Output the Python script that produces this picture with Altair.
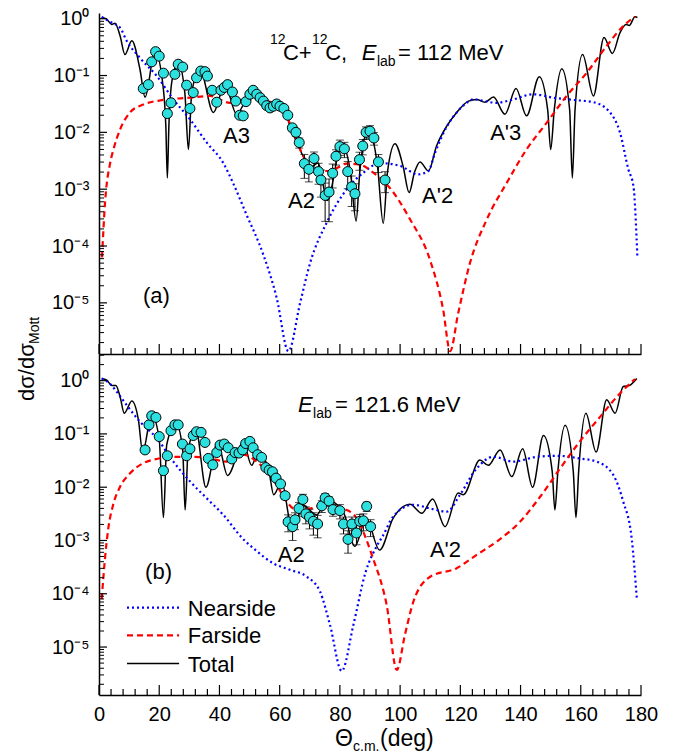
import altair as alt
import pandas as pd

FONT = "Liberation Sans"
W, H = 542, 341
CYAN = "#2CE0E0"

# ---------------- panel (a): E_lab = 112 MeV ----------------
A_TOTAL_DEG = [0.9, 2.6, 4.2, 5.3, 7.0, 8.6, 10.9, 13.6, 15.3, 18.6,
               21.3, 22.2, 22.7, 23.2, 24.2, 26.3, 28.5, 29.7, 30.8, 33.5,
               38.0, 41.8, 45.7, 51.2, 54.0, 57.0, 61.2, 63.4, 66.2, 67.8,
               70.0, 72.8, 75.8, 80.6, 83.5, 85.4, 86.6, 89.4, 92.5, 94.4,
               95.8, 98.3, 101.0, 103.0, 104.8, 106.6, 109.4, 112.1, 115.5, 118.8,
               122.7, 125.4, 128.2, 131.0, 134.8, 138.5, 142.0, 146.2, 149.0, 150.0,
               151.2, 153.7, 156.3, 157.2, 158.1, 160.6, 164.2, 167.7, 170.5, 173.0,
               175.0, 176.1, 178.0, 178.8]
A_TOTAL_VAL = [1.05, 0.977, 0.794, 0.832, 0.50, 0.234, 0.407, 0.129, 0.0417, 0.269,
               0.063, 0.0126, 0.00158, 0.0126, 0.079, 0.170, 0.050, 0.0050, 0.050, 0.129,
               0.0224, 0.0692, 0.0209, 0.0617, 0.038, 0.0302, 0.0295, 0.0129, 0.00575, 0.0038,
               0.0024, 0.00288, 0.000631, 0.00617, 0.0020, 0.000275, 0.0020, 0.0112, 0.00251, 0.000251,
               0.0020, 0.00631, 0.00251, 0.000871, 0.0020, 0.00302, 0.00209, 0.00575, 0.0129, 0.0224,
               0.0355, 0.038, 0.0339, 0.0417, 0.0209, 0.0589, 0.0195, 0.0955, 0.0251, 0.0050,
               0.0251, 0.132, 0.0251, 0.00158, 0.0251, 0.234, 0.0437, 0.468, 0.245, 0.562,
               0.794, 0.759, 1.08, 1.05]

A_NEAR_DEG = [0.9, 3.5, 7.0, 9.2, 13.6, 19.2, 24.7, 30.2, 35.8, 41.3,
              44.5, 49.0, 54.6, 59.0, 62.9, 66.8, 70.1, 75.6, 82.3, 87.8,
              93.3, 100.0, 106.0, 109.4, 111.6, 115.5, 118.8, 122.7, 124.3, 132.0,
              137.6, 144.2, 150.9, 157.5, 164.2, 169.7, 173.0, 175.8, 177.5, 178.8]
A_NEAR_VAL = [1.07, 0.891, 0.692, 0.407, 0.204, 0.0977, 0.038, 0.0170, 0.00661, 0.00288,
              0.00129, 3.55e-4, 7.0e-5, 1.23e-5, 1.41e-6, 1.0e-5, 5.01e-5, 2.57e-4, 1.0e-3, 1.95e-3,
              2.88e-3, 2.57e-3, 1.82e-3, 2.09e-3, 4.37e-3, 0.0126, 0.0224, 0.0347, 0.038, 0.0331,
              0.038, 0.0468, 0.0407, 0.0372, 0.0339, 0.0224, 0.01, 0.00224, 0.00112, 6.31e-5]

A_FAR_DEG = [1.0, 2.0, 3.7, 4.8, 7.0, 10.3, 14.7, 21.4, 30.2, 36.9,
             43.5, 49.0, 55.7, 61.2, 64.5, 67.9, 72.3, 76.7, 82.3, 86.7,
             91.1, 96.6, 103.3, 109.9, 114.3, 116.6, 119.3, 123.2, 128.8, 135.4,
             142.0, 148.7, 155.3, 162.0, 168.6, 174.1, 178.0]
A_FAR_VAL = [6.31e-5, 5.75e-4, 2.88e-3, 5.01e-3, 0.0112, 0.0224, 0.0309, 0.0372, 0.0407, 0.0437,
             0.0331, 0.038, 0.0355, 0.0251, 0.01, 0.0038, 0.00209, 0.00209, 0.00282, 0.00269,
             0.00195, 0.00105, 2.95e-4, 5.75e-5, 7.59e-6, 1.41e-6, 6.61e-6, 5.01e-5, 2.95e-4, 1.29e-3,
             5.01e-3, 0.0148, 0.0437, 0.112, 0.331, 0.741, 1.08]

A_DATA_DEG = [14.7, 16.4, 17.5, 18.8, 20.0, 21.4, 22.7, 23.9, 25.2, 26.3,
              27.8, 29.1, 30.2, 31.3, 32.4, 33.8, 35.2, 36.0, 37.6, 39.1,
              40.5, 41.6, 42.7, 44.3, 45.4, 46.7, 47.9, 48.8, 50.1, 51.2,
              52.4, 53.5, 54.6, 55.7, 56.8, 57.9, 59.0, 60.1, 61.4, 62.7,
              64.2, 65.4, 66.5, 68.2, 69.7, 71.4, 72.9, 73.7, 75.1, 76.4,
              77.6, 78.7, 80.0, 81.5, 82.6, 83.9, 85.0, 86.5, 87.6, 88.7,
              90.0, 91.3, 92.8, 95.0]
A_DATA_VAL = [0.0589, 0.0692, 0.174, 0.263, 0.219, 0.110, 0.0214, 0.0331, 0.105, 0.158,
              0.141, 0.0676, 0.0263, 0.0501, 0.0912, 0.120, 0.117, 0.0977, 0.0550, 0.0339,
              0.0550, 0.0617, 0.0692, 0.0513, 0.0355, 0.0200, 0.0195, 0.0347, 0.0468, 0.0550,
              0.0468, 0.0407, 0.0355, 0.0295, 0.0269, 0.0288, 0.0316, 0.0288, 0.0263, 0.0200,
              0.0120, 0.0100, 0.00661, 0.00282, 0.00224, 0.00347, 0.00204, 0.00145, 0.000776, 0.000891,
              0.00191, 0.00380, 0.00562, 0.00513, 0.00204, 0.00110, 0.000832, 0.00331, 0.00575, 0.0100,
              0.0105, 0.00794, 0.00302, 0.00145]
A_DATA_ERR = [0.08, 0.08, 0.08, 0.08, 0.08, 0.08, 0.08, 0.08, 0.08, 0.08,
              0.08, 0.08, 0.08, 0.08, 0.08, 0.08, 0.08, 0.08, 0.08, 0.08,
              0.08, 0.08, 0.08, 0.08, 0.08, 0.08, 0.08, 0.08, 0.08, 0.08,
              0.08, 0.08, 0.08, 0.08, 0.08, 0.08, 0.08, 0.08, 0.08, 0.08,
              0.12, 0.15, 0.20, 0.45, 0.40, 0.30, 0.40, 0.50, 0.65, 0.70,
              0.45, 0.30, 0.30, 0.30, 0.50, 0.55, 0.50, 0.35, 0.30, 0.25,
              0.25, 0.25, 0.35, 0.40]

# ---------------- panel (b): E_lab = 121.6 MeV ----------------
B_TOTAL_DEG = [0.9, 2.6, 4.2, 5.6, 7.0, 8.4, 10.9, 13.1, 14.5, 17.5,
               20.0, 21.4, 22.5, 25.6, 27.8, 28.6, 29.6, 32.2, 35.5, 39.4,
               42.7, 47.9, 50.7, 52.9, 56.5, 58.0, 60.7, 63.4, 64.8, 67.5,
               72.3, 75.6, 81.1, 85.0, 88.7, 93.2, 97.7, 103.3, 107.2, 110.8,
               114.9, 119.3, 121.0, 126.5, 129.3, 133.2, 137.1, 140.7, 144.0, 147.6,
               150.5, 151.4, 152.4, 154.8, 157.5, 158.4, 159.3, 161.7, 165.1, 168.6,
               171.4, 174.1, 176.1, 178.6]
B_TOTAL_VAL = [1.10, 1.02, 0.813, 0.813, 0.50, 0.245, 0.417, 0.182, 0.0457, 0.229,
               0.0794, 0.00269, 0.063, 0.158, 0.0501, 0.00372, 0.0501, 0.117, 0.01, 0.0692,
               0.0166, 0.0692, 0.0257, 0.0468, 0.0191, 0.00724, 0.0126, 0.00224, 0.00151, 0.00468,
               0.00302, 0.00575, 0.00347, 0.000776, 0.00263, 0.000661, 0.00263, 0.00479, 0.00324, 0.00603,
               0.00182, 0.00776, 0.00724, 0.0324, 0.0257, 0.0501, 0.0158, 0.0525, 0.01, 0.0933,
               0.02, 0.00372, 0.02, 0.145, 0.02, 0.00269, 0.02, 0.245, 0.0457, 0.437,
               0.245, 0.776, 0.813, 1.10]

B_NEAR_DEG = [0.9, 3.5, 5.9, 9.2, 13.6, 19.2, 24.7, 30.2, 35.8, 41.3,
              47.5, 52.4, 57.9, 63.4, 69.0, 73.4, 76.7, 80.6, 84.5, 88.5,
              92.2, 94.4, 97.7, 104.4, 110.0, 115.5, 119.9, 125.4, 131.0, 137.6,
              145.4, 152.0, 159.7, 165.3, 170.8, 174.1, 176.9, 178.6]
B_NEAR_VAL = [1.10, 0.891, 0.617, 0.347, 0.170, 0.0832, 0.0302, 0.0129, 0.00617, 0.00302,
              0.00112, 0.000631, 0.000372, 0.000282, 0.000209, 0.00011, 2.63e-5, 3.55e-6, 2.63e-5, 2.51e-4,
              7.76e-4, 1.26e-3, 2.82e-3, 4.68e-3, 3.98e-3, 3.47e-3, 7.24e-3, 0.0224, 0.0372, 0.0302,
              0.0372, 0.0389, 0.0347, 0.0302, 0.0170, 5.37e-3, 1.10e-3, 8.32e-5]

B_FAR_DEG = [0.9, 2.0, 3.1, 4.7, 7.0, 10.3, 14.7, 19.2, 25.8, 31.3,
             36.9, 42.4, 47.9, 52.4, 55.7, 59.0, 62.3, 65.7, 70.1, 74.5,
             81.1, 85.6, 88.9, 91.7, 93.3, 95.5, 98.9, 101.6, 104.4, 110.0,
             118.8, 125.4, 132.1, 139.8, 146.5, 153.1, 159.7, 166.4, 173.0, 178.0]
B_FAR_VAL = [7.94e-5, 4.68e-4, 1.70e-3, 4.68e-3, 0.0102, 0.0182, 0.0282, 0.0339, 0.0372, 0.0372,
             0.0347, 0.0302, 0.0407, 0.0302, 0.0195, 0.011, 5.37e-3, 3.72e-3, 3.98e-3, 4.68e-3,
             3.98e-3, 2.63e-3, 1.0e-3, 3.55e-4, 1.95e-4, 6.31e-5, 3.72e-6, 1.70e-5, 7.08e-5, 2.09e-4,
             3.02e-4, 5.37e-4, 9.55e-4, 2.24e-3, 6.61e-3, 0.0224, 0.0724, 0.209, 0.575, 1.07]

B_DATA_DEG = [15.3, 16.6, 17.5, 18.9, 20.0, 21.4, 22.7, 23.9, 25.2, 26.3,
              27.7, 29.1, 30.2, 31.3, 32.4, 33.9, 35.2, 36.3, 37.8, 39.1,
              40.2, 41.6, 42.9, 44.1, 45.2, 46.5, 47.7, 48.7, 50.1, 51.2,
              52.7, 54.0, 55.4, 56.5, 57.6, 58.8, 60.3, 61.8, 62.8, 64.3,
              65.1, 66.4, 67.7, 68.7, 69.9, 71.2, 72.6, 74.0, 75.1, 76.4,
              77.7, 80.0, 81.2, 82.7, 84.0, 85.5, 86.6, 87.8, 88.9, 90.2]
B_DATA_VAL = [0.0501, 0.148, 0.219, 0.204, 0.0891, 0.0204, 0.0389, 0.115, 0.148, 0.148,
              0.0646, 0.0389, 0.0525, 0.0933, 0.110, 0.107, 0.0692, 0.0347, 0.0263, 0.0447,
              0.0617, 0.0646, 0.0550, 0.0339, 0.0447, 0.0437, 0.0501, 0.0661, 0.0724, 0.0550,
              0.0407, 0.0363, 0.0234, 0.0209, 0.0195, 0.0148, 0.0115, 0.00692, 0.00224, 0.00182,
              0.00245, 0.00398, 0.00589, 0.00316, 0.00275, 0.00229, 0.00204, 0.00447, 0.00631, 0.00550,
              0.00380, 0.00363, 0.00204, 0.00105, 0.00204, 0.00138, 0.00229, 0.00234, 0.00437, 0.00182]
B_DATA_ERR = [0.08, 0.08, 0.08, 0.08, 0.08, 0.08, 0.08, 0.08, 0.08, 0.08,
              0.08, 0.08, 0.08, 0.08, 0.08, 0.08, 0.08, 0.08, 0.08, 0.08,
              0.08, 0.08, 0.08, 0.08, 0.08, 0.08, 0.08, 0.08, 0.08, 0.08,
              0.08, 0.08, 0.08, 0.08, 0.08, 0.08, 0.08, 0.15, 0.35, 0.45,
              0.35, 0.30, 0.25, 0.35, 0.40, 0.45, 0.45, 0.25, 0.20, 0.20,
              0.25, 0.30, 0.35, 0.45, 0.35, 0.40, 0.35, 0.35, 0.20, 0.35]

# ---------------- annotations (data coordinates) ----------------
A_TEXT = ["C+", "C,", "= 112 MeV", "A3", "A2", "A'2", "A'3", "(a)"]
A_TEXT_X = [61.1, 75.1, 99.3, 41.2, 62.8, 107.3, 129.9, 14.6]
A_TEXT_Y = [0.19, 0.19, 0.19, 6.6e-3, 4.7e-4, 5.6e-4, 7.4e-3, 1.0e-5]
A_SMALL = ["12", "12", "lab"]
A_SMALL_X = [56.8, 70.7, 92.3]
A_SMALL_Y = [0.363, 0.363, 0.149]
A_ITAL = ["E"]
A_ITAL_X = [87.3]
A_ITAL_Y = [0.19]

B_TEXT = ["= 121.6 MeV", "A2", "A'2", "(b)", "Nearside", "Farside", "Total"]
B_TEXT_X = [78.4, 59.4, 109.9, 15.3, 29.5, 29.5, 29.5]
B_TEXT_Y = [0.263, 4.0e-4, 5.0e-4, 1.9e-4, 3.9e-5, 1.17e-5, 3.47e-6]
B_SMALL = ["lab"]
B_SMALL_X = [71.1]
B_SMALL_Y = [0.203]
B_ITAL = ["E"]
B_ITAL_X = [66.1]
B_ITAL_Y = [0.263]

LEG_X1, LEG_X2 = 9.3, 26.6
LEG_Y = {"near": 5.5e-5, "far": 1.65e-5, "total": 4.9e-6}

Y_MAJOR = [1e-5, 1e-4, 1e-3, 1e-2, 1e-1, 1.0]
X_MAJOR = list(range(0, 181, 20))
X_MINOR = [v for v in range(0, 181, 4) if v % 20 != 0]

LABEL_EXPR = ("['10\u2070','10\u207b\u00b9','10\u207b\u00b2','10\u207b\u00b3',"
              "'10\u207b\u2074','10\u207b\u2075'][round(-log(datum.value)/LN10)]")

NEAR_STYLE = dict(color="#0000FF", strokeDash=[2, 3], strokeWidth=2.2)
FAR_STYLE = dict(color="#FF0000", strokeDash=[6, 4], strokeWidth=2.2)
TOT_STYLE = dict(color="black", strokeWidth=1.5)


def minor_y(lo, hi):
    out = []
    for k in range(-7, 2):
        for m in range(2, 10):
            v = m * 10.0 ** k
            if lo <= v <= hi:
                out.append(v)
    return out


def panel(total, near, far, pts, ydom, txt, small, ital, bottom):
    xs = alt.Scale(domain=[0, 180], nice=False, zero=False)
    ys = alt.Scale(type="log", domain=ydom, nice=False)
    if bottom:
        xaxis = alt.Axis(values=X_MAJOR, title=None, ticks=False, grid=False,
                         labelPadding=9, labelFlush=False, labelOverlap=False)
    else:
        xaxis = alt.Axis(labels=False, title=None, ticks=False, grid=False)
    yaxis = alt.Axis(values=Y_MAJOR, labelExpr=LABEL_EXPR, title=None, ticks=False,
                     grid=False, labelOverlap=False, labelPadding=10, labelFlush=False)

    def X(f):
        return alt.X(f"{f}:Q", scale=xs, axis=xaxis)

    def Y(f):
        return alt.Y(f"{f}:Q", scale=ys, axis=yaxis)

    layers = []
    layers.append(alt.Chart(total).mark_line(interpolate="monotone", clip=True, **TOT_STYLE)
                  .encode(x=X("deg"), y=Y("val")))
    layers.append(alt.Chart(near).mark_line(interpolate="monotone", clip=True, **NEAR_STYLE)
                  .encode(x=X("deg"), y=Y("val")))
    layers.append(alt.Chart(far).mark_line(interpolate="monotone", clip=True, **FAR_STYLE)
                  .encode(x=X("deg"), y=Y("val")))
    layers.append(alt.Chart(pts).mark_rule(color="black", strokeWidth=1)
                  .encode(x=X("deg"), y=Y("lo"), y2="hi:Q"))
    caps = pd.concat([pts[["deg", "lo"]].rename(columns={"lo": "v"}),
                      pts[["deg", "hi"]].rename(columns={"hi": "v"})])
    layers.append(alt.Chart(caps).mark_tick(orient="horizontal", color="black", thickness=1, size=8)
                  .encode(x=X("deg"), y=Y("v")))
    layers.append(alt.Chart(pts).mark_circle(size=100, color=CYAN, stroke="black",
                                             strokeWidth=1, opacity=1)
                  .encode(x=X("deg"), y=Y("val")))
    layers.append(alt.Chart(txt).mark_text(align="left", baseline="alphabetic", fontSize=22,
                                           font=FONT, color="black")
                  .encode(x=X("x"), y=Y("y"), text="t:N"))
    layers.append(alt.Chart(small).mark_text(align="left", baseline="alphabetic", fontSize=14,
                                             font=FONT, color="black")
                  .encode(x=X("x"), y=Y("y"), text="t:N"))
    layers.append(alt.Chart(ital).mark_text(align="left", baseline="alphabetic", fontSize=22,
                                            font=FONT, fontStyle="italic", color="black")
                  .encode(x=X("x"), y=Y("y"), text="t:N"))
    # inward ticks
    layers.append(alt.Chart(pd.DataFrame({"v": X_MAJOR})).mark_rule(color="black", strokeWidth=1.2)
                  .encode(x=X("v"), y=alt.value(H), y2=alt.value(H - 10)))
    layers.append(alt.Chart(pd.DataFrame({"v": X_MINOR})).mark_rule(color="black", strokeWidth=1.2)
                  .encode(x=X("v"), y=alt.value(H), y2=alt.value(H - 6)))
    layers.append(alt.Chart(pd.DataFrame({"v": Y_MAJOR})).mark_rule(color="black", strokeWidth=1.2)
                  .encode(y=Y("v"), x=alt.value(0), x2=alt.value(8)))
    layers.append(alt.Chart(pd.DataFrame({"v": minor_y(ydom[0], ydom[1])}))
                  .mark_rule(color="black", strokeWidth=1)
                  .encode(y=Y("v"), x=alt.value(0), x2=alt.value(5)))

    one = pd.DataFrame({"a": [0]})
    if not bottom:
        # shared y-axis title (placed between the panels)
        layers.append(alt.Chart(one).mark_text(align="left", baseline="alphabetic", angle=270,
                                               fontSize=22, font=FONT, color="black")
                      .encode(x=alt.value(-65), y=alt.value(388), text=alt.value("d\u03c3/d\u03c3")))
        layers.append(alt.Chart(one).mark_text(align="left", baseline="alphabetic", angle=270,
                                               fontSize=14, font=FONT, color="black")
                      .encode(x=alt.value(-60), y=alt.value(331), text=alt.value("Mott")))
    else:
        leg = pd.DataFrame({"x1": [LEG_X1], "x2": [LEG_X2]})
        for key, style in (("near", NEAR_STYLE), ("far", FAR_STYLE), ("total", TOT_STYLE)):
            d = leg.assign(y=LEG_Y[key])
            layers.append(alt.Chart(d).mark_rule(**style)
                          .encode(x=X("x1"), x2="x2:Q", y=Y("y")))
        layers.append(alt.Chart(one).mark_text(align="left", baseline="alphabetic", fontSize=23,
                                               font=FONT, color="black")
                      .encode(x=alt.value(236), y=alt.value(392), text=alt.value("\u0398")))
        layers.append(alt.Chart(one).mark_text(align="left", baseline="alphabetic", fontSize=14,
                                               font=FONT, color="black")
                      .encode(x=alt.value(254), y=alt.value(397), text=alt.value("c.m.")))
        layers.append(alt.Chart(one).mark_text(align="left", baseline="alphabetic", fontSize=23,
                                               font=FONT, color="black")
                      .encode(x=alt.value(281), y=alt.value(392), text=alt.value("(deg)")))
    return alt.layer(*layers).properties(width=W, height=H)


def line_df(d, v):
    return pd.DataFrame({"deg": d, "val": v})


def pts_df(d, v, e):
    df = pd.DataFrame({"deg": d, "val": v, "err": e})
    df["lo"] = df["val"] * (1 - df["err"])
    df["hi"] = df["val"] * (1 + df["err"])
    return df


def txt_df(t, x, y):
    return pd.DataFrame({"t": t, "x": x, "y": y})


top = panel(line_df(A_TOTAL_DEG, A_TOTAL_VAL), line_df(A_NEAR_DEG, A_NEAR_VAL),
            line_df(A_FAR_DEG, A_FAR_VAL), pts_df(A_DATA_DEG, A_DATA_VAL, A_DATA_ERR),
            [1.259e-6, 1.259], txt_df(A_TEXT, A_TEXT_X, A_TEXT_Y),
            txt_df(A_SMALL, A_SMALL_X, A_SMALL_Y), txt_df(A_ITAL, A_ITAL_X, A_ITAL_Y), False)
bot = panel(line_df(B_TOTAL_DEG, B_TOTAL_VAL), line_df(B_NEAR_DEG, B_NEAR_VAL),
            line_df(B_FAR_DEG, B_FAR_VAL), pts_df(B_DATA_DEG, B_DATA_VAL, B_DATA_ERR),
            [1.259e-6, 3.162], txt_df(B_TEXT, B_TEXT_X, B_TEXT_Y),
            txt_df(B_SMALL, B_SMALL_X, B_SMALL_Y), txt_df(B_ITAL, B_ITAL_X, B_ITAL_Y), True)

chart = (alt.vconcat(top, bot, spacing=0, bounds="flush")
         .properties(padding={"left": 8, "top": 0, "right": 10, "bottom": 0})
         .configure_view(stroke=None)
         .configure_axis(labelFont=FONT, labelFontSize=20, labelColor="black",
                         domainColor="black", domainWidth=1.5, grid=False, ticks=False))

chart.save("out.html", embed_options={"renderer": "svg", "actions": False})
